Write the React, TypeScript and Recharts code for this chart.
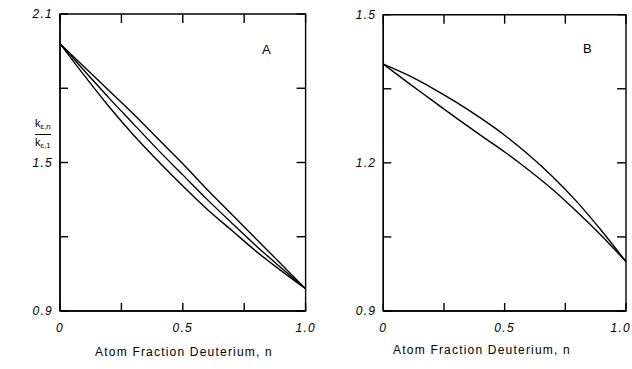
import React from "react";
import { LineChart, Line, XAxis, YAxis, ReferenceArea } from "recharts";

const N_VALUES = [0, 0.1, 0.2, 0.3, 0.4, 0.5, 0.6, 0.7, 0.8, 0.9, 1.0];
const A_UPPER = [1.98, 1.885, 1.79, 1.695, 1.595, 1.495, 1.39, 1.29, 1.19, 1.09, 0.99];
const A_MIDDLE = [1.98, 1.87, 1.76, 1.655, 1.55, 1.45, 1.35, 1.255, 1.162, 1.075, 0.99];
const A_LOWER = [1.98, 1.85, 1.725, 1.61, 1.505, 1.405, 1.31, 1.225, 1.14, 1.063, 0.99];
const B_UPPER = [1.4, 1.378, 1.352, 1.323, 1.291, 1.256, 1.216, 1.171, 1.12, 1.062, 1.0];
const B_LOWER = [1.4, 1.363, 1.327, 1.291, 1.256, 1.222, 1.185, 1.145, 1.1, 1.052, 1.0];

const X_TICKS = [0, 0.25, 0.5, 0.75, 1.0];
const X_LABELS: Record<string, string> = { "0": "0", "0.5": "0.5", "1": "1.0" };
const A_Y_TICKS = [0.9, 1.2, 1.5, 1.8, 2.1];
const A_Y_LABELS: Record<string, string> = { "0.9": "0.9", "1.5": "1.5", "2.1": "2.1" };
const B_Y_TICKS = [0.9, 1.05, 1.2, 1.35, 1.5];
const B_Y_LABELS: Record<string, string> = { "0.9": "0.9", "1.2": "1.2", "1.5": "1.5" };

const X_TITLE = "Atom Fraction Deuterium, n";

const dataA = N_VALUES.map((n, i) => ({ n, u: A_UPPER[i], m: A_MIDDLE[i], l: A_LOWER[i] }));
const dataB = N_VALUES.map((n, i) => ({ n, u: B_UPPER[i], l: B_LOWER[i] }));

const TICK_LEN = 8;
const SW = 1.4;
const FONT = "'Liberation Sans', Arial, sans-serif";
const labelStyle = { fontFamily: FONT, fontSize: 12, fontStyle: "italic" as const, letterSpacing: "1.3px" };

const makeBottomTick = (plotH: number, maxX: number) => (props: any) => {
  const { x, y, payload } = props;
  const lab = X_LABELS[String(payload.value)];
  const clampEnd = x + 12 > maxX;
  return (
    <g>
      <line x1={x} y1={y} x2={x} y2={y - TICK_LEN} stroke="#000" strokeWidth={SW} />
      <line x1={x} y1={y - plotH} x2={x} y2={y - plotH + TICK_LEN + 1} stroke="#000" strokeWidth={SW} />
      {lab !== undefined && (
        <text
          x={clampEnd ? maxX : x}
          y={y + 21}
          textAnchor={clampEnd ? "end" : "middle"}
          fill="#000"
          style={labelStyle}
        >
          {lab}
        </text>
      )}
    </g>
  );
};

const makeLeftTick = (labels: Record<string, string>, plotW: number) => (props: any) => {
  const { x, y, payload } = props;
  const lab = labels[String(payload.value)];
  return (
    <g>
      <line x1={x} y1={y} x2={x + TICK_LEN} y2={y} stroke="#000" strokeWidth={SW} />
      <line x1={x + plotW} y1={y} x2={x + plotW - TICK_LEN - 1} y2={y} stroke="#000" strokeWidth={SW} />
      {lab !== undefined && (
        <text x={x - 7} y={y + 4} textAnchor="end" fill="#000" style={labelStyle}>
          {lab}
        </text>
      )}
    </g>
  );
};

const BottomTickA = makeBottomTick(297, 316);
const BottomTickB = makeBottomTick(296.3, 311);
const LeftTickA = makeLeftTick(A_Y_LABELS, 245.6);
const LeftTickB = makeLeftTick(B_Y_LABELS, 242.7);

const axisLine = { stroke: "#000", strokeWidth: SW };

function Panel(props: {
  data: any[];
  keys: string[];
  yTicks: number[];
  leftTick: any;
  bottomTick: any;
  width: number;
  yWidth: number;
  margin: any;
}) {
  const { data, keys, yTicks, leftTick, bottomTick, width, yWidth, margin } = props;
  const y0 = yTicks[0];
  const y1 = yTicks[yTicks.length - 1];
  return (
    <LineChart width={width} height={369} data={data} margin={margin}>
      <XAxis
        dataKey="n"
        type="number"
        domain={[0, 1]}
        ticks={X_TICKS}
        interval={0}
        height={58}
        tickSize={0}
        tickMargin={0}
        tickLine={false}
        axisLine={axisLine}
        tick={bottomTick}
        allowDataOverflow
      />
      <YAxis
        type="number"
        domain={[y0, y1]}
        ticks={yTicks}
        interval={0}
        width={yWidth}
        tickSize={0}
        tickMargin={0}
        tickLine={false}
        axisLine={axisLine}
        tick={leftTick}
        allowDataOverflow
      />
      <ReferenceArea
        x1={0}
        x2={1}
        y1={y0}
        y2={y1}
        fill="none"
        fillOpacity={0}
        stroke="#000"
        strokeWidth={SW}
        strokeOpacity={1}
        ifOverflow="visible"
      />
      {keys.map((k) => (
        <Line
          key={k}
          dataKey={k}
          type="monotone"
          stroke="#000"
          strokeWidth={SW}
          dot={false}
          activeDot={false}
          isAnimationActive={false}
        />
      ))}
    </LineChart>
  );
}

export default function App() {
  const subStyle = { fontSize: 8, verticalAlign: "-2px" };
  return (
    <div
      style={{
        position: "absolute",
        left: 0,
        top: 0,
        width: 632,
        height: 369,
        background: "#fff",
        overflow: "hidden",
        fontFamily: FONT,
        color: "#000",
      }}
    >
      <div style={{ position: "absolute", left: 0, top: 0 }}>
        <Panel
          data={dataA}
          keys={["u", "m", "l"]}
          yTicks={A_Y_TICKS}
          leftTick={LeftTickA}
          bottomTick={BottomTickA}
          width={320}
          yWidth={60}
          margin={{ top: 14, right: 14.4, bottom: 0, left: 0 }}
        />
      </div>
      <div style={{ position: "absolute", left: 320, top: 0 }}>
        <Panel
          data={dataB}
          keys={["u", "l"]}
          yTicks={B_Y_TICKS}
          leftTick={LeftTickB}
          bottomTick={BottomTickB}
          width={312}
          yWidth={63.3}
          margin={{ top: 14.7, right: 6, bottom: 0, left: 0 }}
        />
      </div>

      {/* Y-axis fraction label */}
      <div
        style={{
          position: "absolute",
          left: 35,
          top: 117,
          fontSize: 11,
          lineHeight: "12px",
          textAlign: "left",
        }}
      >
        <div style={{ borderBottom: "1.3px solid #000", paddingBottom: 1, display: "inline-block" }}>
          k<sub style={subStyle}>ε,n</sub>
        </div>
        <div style={{ marginTop: 1 }}>
          k<sub style={subStyle}>ε,1</sub>
        </div>
      </div>

      {/* Panel letters */}
      <div style={{ position: "absolute", left: 262, top: 42, fontSize: 13 }}>A</div>
      <div style={{ position: "absolute", left: 583, top: 41, fontSize: 13 }}>B</div>

      {/* X-axis titles */}
      <div
        style={{
          position: "absolute",
          left: 184,
          top: 345,
          transform: "translateX(-50%)",
          whiteSpace: "nowrap",
          fontSize: 12,
          letterSpacing: "1.2px",
        }}
      >
        {X_TITLE}
      </div>
      <div
        style={{
          position: "absolute",
          left: 482,
          top: 343,
          transform: "translateX(-50%)",
          whiteSpace: "nowrap",
          fontSize: 12,
          letterSpacing: "1.2px",
        }}
      >
        {X_TITLE}
      </div>
    </div>
  );
}
